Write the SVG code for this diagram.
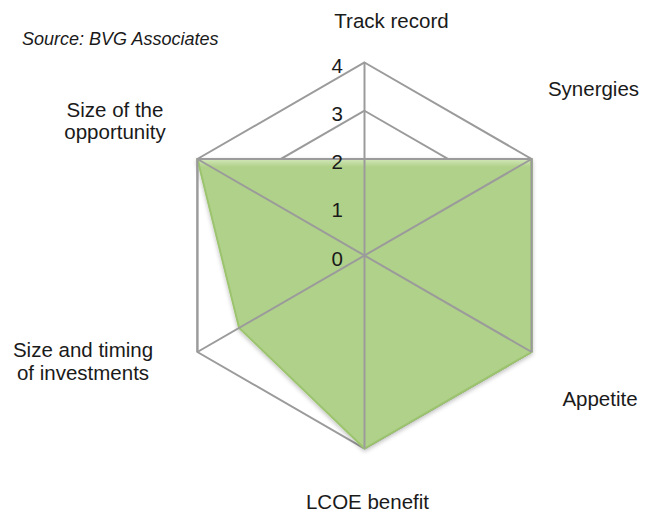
<svg xmlns="http://www.w3.org/2000/svg" width="645" height="514" viewBox="0 0 645 514">
  <defs>
    <style>
      .grid { fill: none; stroke: #9b9b9b; stroke-width: 2; stroke-linejoin: miter; }
      .lbl { font-family: "Liberation Sans", Arial, sans-serif; font-size: 20.5px; fill: #1a1a1a; }
      .num { font-family: "Liberation Sans", Arial, sans-serif; font-size: 20.5px; fill: #1a1a1a; text-anchor: end; }
      .src { font-family: "Liberation Sans", Arial, sans-serif; font-size: 18px; font-style: italic; fill: #1a1a1a; }
    </style>
    <linearGradient id="topBand" x1="0" y1="0" x2="0" y2="1">
      <stop offset="0" stop-color="#d9eac2"/>
      <stop offset="1" stop-color="#b0d189"/>
    </linearGradient>
    <filter id="shadow" x="-10%" y="-10%" width="120%" height="120%">
      <feGaussianBlur in="SourceAlpha" stdDeviation="2"/>
      <feOffset dx="0" dy="2" result="b"/>
      <feFlood flood-color="#000" flood-opacity="0.25"/>
      <feComposite in2="b" operator="in"/>
      <feMerge><feMergeNode/><feMergeNode in="SourceGraphic"/></feMerge>
    </filter>
  </defs>
  <rect width="645" height="514" fill="#ffffff"/>

  <g id="grid-rings">
    <polygon class="grid" points="364.5,207.25 406.3,231.4 406.3,279.6 364.5,303.75 322.7,279.6 322.7,231.4"/>
    <polygon class="grid" points="364.5,159 448.1,207.25 448.1,303.75 364.5,352 280.9,303.75 280.9,207.25"/>
    <polygon class="grid" points="364.5,110.75 489.9,183.1 489.9,327.9 364.5,400.25 239.1,327.9 239.1,183.1"/>
    <polygon class="grid" points="364.5,62.5 531.6,159 531.6,352 364.5,448.5 197.4,352 197.4,159"/>
  </g>

  <g id="series">
    <polygon points="364.5,159 531.6,159 531.6,352 364.5,448.5 239.1,327.9 197.4,159" fill="#b0d189" stroke="#9cc46e" stroke-width="2" stroke-linejoin="round" filter="url(#shadow)"/>
    <polygon points="199,159.5 530,159.5 530,167 201,167" fill="url(#topBand)" opacity="0.8"/>
  </g>

  <g id="connectors">
    <line class="grid" x1="364.5" y1="62.5" x2="364.5" y2="448.5"/>
    <line class="grid" x1="197.4" y1="159" x2="531.6" y2="352"/>
    <line class="grid" x1="531.6" y1="159" x2="197.4" y2="352"/>
    <polyline class="grid" points="197.4,352 197.4,159 531.6,159 531.6,352"/>
  </g>

  <g id="axis-values">
    <text class="num" x="343" y="72.7">4</text>
    <text class="num" x="343" y="120.9">3</text>
    <text class="num" x="343" y="169.1">2</text>
    <text class="num" x="343" y="217.3">1</text>
    <text class="num" x="343" y="265.5">0</text>
  </g>

  <g id="source"><text class="src" x="22" y="45">Source: BVG Associates</text></g>
  <g id="track-record"><text class="lbl" x="391.5" y="28" text-anchor="middle">Track record</text></g>
  <g id="synergies"><text class="lbl" x="593.5" y="96" text-anchor="middle">Synergies</text></g>
  <g id="appetite"><text class="lbl" x="600" y="406" text-anchor="middle">Appetite</text></g>
  <g id="lcoe-benefit"><text class="lbl" x="367.5" y="509" text-anchor="middle">LCOE benefit</text></g>
  <g id="size-timing">
    <text class="lbl" x="83" y="357" text-anchor="middle">Size and timing</text>
    <text class="lbl" x="83" y="380" text-anchor="middle">of investments</text>
  </g>
  <g id="size-opportunity">
    <text class="lbl" x="115" y="117" text-anchor="middle">Size of the</text>
    <text class="lbl" x="115" y="139" text-anchor="middle">opportunity</text>
  </g>
</svg>
